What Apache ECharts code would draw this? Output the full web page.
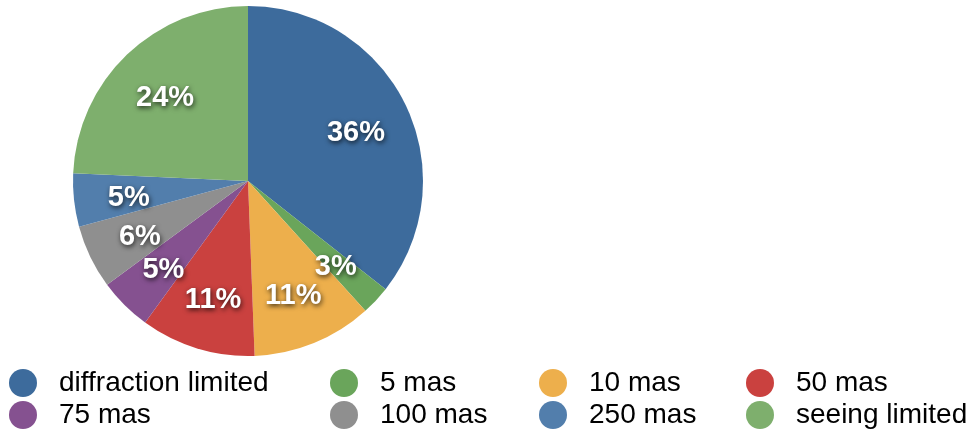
<!DOCTYPE html>
<html lang="en">
<head>
    <meta charset="UTF-8">
    <title>Pie</title>
    <script src="https://cdn.jsdelivr.net/npm/echarts@6/dist/echarts.min.js"></script>
    <style>
        html, body { margin: 0; padding: 0; background: #fff; }
        #main { width: 977px; height: 432px; }
    </style>
</head>
<body>
<div id="main"></div>
<script type="text/javascript">
    // slice names, values (percent) and colours
    var names = ['diffraction limited', '5 mas', '10 mas', '50 mas', '75 mas', '100 mas', '250 mas', 'seeing limited'];
    var values = [35.6, 2.7, 11.1, 10.6, 4.9, 5.9, 4.9, 24.3];
    var colors = ['#3d6b9c', '#6aa55b', '#edaf4c', '#ca413f', '#855190', '#8f8f8f', '#527eac', '#7eaf6d'];

    // legend columns (two items each, read down)
    var legendCols = [
        ['diffraction limited', '75 mas'],
        ['5 mas', '100 mas'],
        ['10 mas', '250 mas'],
        ['50 mas', 'seeing limited']
    ];
    var legendLeft = [9, 330, 539, 746];

    var font = 'Helvetica, "Liberation Sans", Arial, sans-serif';

    var data = [];
    for (var i = 0; i < names.length; i++) {
        data.push({ name: names[i], value: values[i], itemStyle: { color: colors[i] } });
    }

    var legends = [];
    for (var c = 0; c < legendCols.length; c++) {
        legends.push({
            orient: 'vertical',
            left: legendLeft[c],
            top: 369,
            padding: 0,
            itemGap: 4,
            itemWidth: 28,
            itemHeight: 28,
            icon: 'circle',
            selectedMode: false,
            data: legendCols[c],
            textStyle: {
                color: '#000',
                fontSize: 28,
                lineHeight: 28,
                fontFamily: font,
                padding: [0, 0, 0, 17]
            }
        });
    }

    var myChart = echarts.init(document.getElementById('main'));

    var option = {
        animation: false,
        legend: legends,
        series: [
            {
                // the coloured pie
                type: 'pie',
                center: [248, 181],
                radius: [0, 175],
                startAngle: 90,
                label: { show: false },
                labelLine: { show: false },
                emphasis: { disabled: true },
                data: data
            },
            {
                // invisible ring, only used to place the percent labels further out
                type: 'pie',
                silent: true,
                center: [248, 181],
                radius: [59, 175],
                startAngle: 90,
                legendHoverLink: false,
                itemStyle: { color: 'rgba(0,0,0,0)' },
                emphasis: { disabled: true },
                label: {
                    show: true,
                    position: 'inside',
                    offset: [0, 4],
                    formatter: function (p) {
                        return Math.round(p.percent) + '%';
                    },
                    color: '#fff',
                    fontSize: 29,
                    fontWeight: 'bold',
                    fontFamily: font,
                    textShadowColor: 'rgba(0,0,0,0.75)',
                    textShadowBlur: 5,
                    textShadowOffsetX: 1,
                    textShadowOffsetY: 2
                },
                labelLine: { show: false },
                data: names.map(function (n, i) { return { name: n, value: values[i] }; })
            }
        ]
    };

    myChart.setOption(option);
</script>
</body>
</html>
